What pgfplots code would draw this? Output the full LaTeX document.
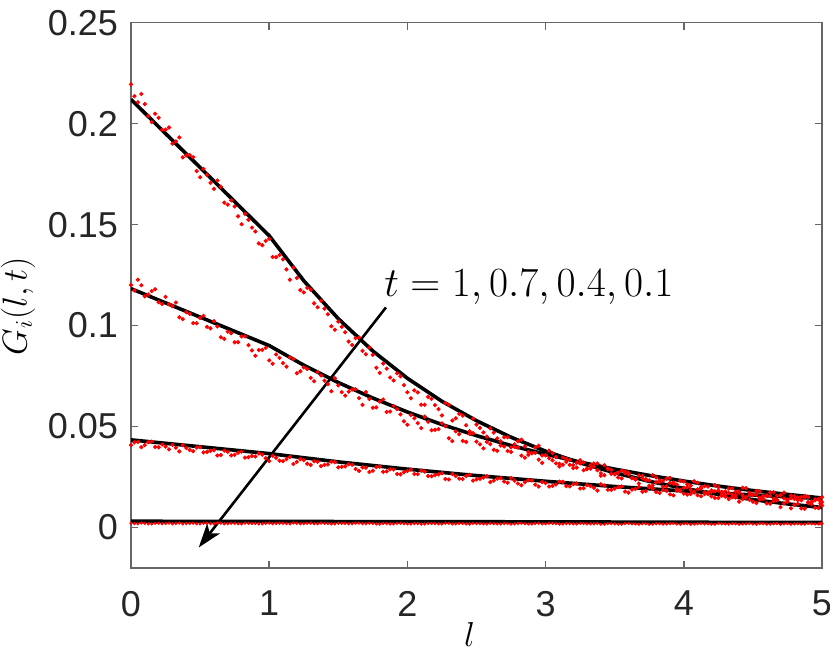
\documentclass[border=0pt]{standalone}
\usepackage{fontspec}
\setmainfont{Liberation Sans}
\usepackage{pgfplots}
\pgfplotsset{compat=1.18}
\usepackage{pgfplotstable}
\usetikzlibrary{arrows.meta}

\definecolor{axgray}{RGB}{38,38,38}

% simulated points (red), two interleaved samples per band
\pgfplotstableread{
l m a1 b1 a7 b7 a4 b4 a01 b01
0 0.025 0.2195 0.2136 0.1201 0.1174 0.0408 0.0422 0.00215 0.00195
0.05 0.075 0.2106 0.2147 0.1227 0.1200 0.0424 0.0398 0.0019 0.0022
0.1 0.125 0.2097 0.2038 0.1145 0.1154 0.0408 0.0423 0.00205 0.00185
0.15 0.175 0.2008 0.2049 0.1171 0.1180 0.0425 0.0399 0.0018 0.0021
0.2 0.225 0.2029 0.1970 0.1116 0.1107 0.0397 0.0411 0.0021 0.0019
0.25 0.275 0.1970 0.1981 0.1142 0.1106 0.0401 0.0387 0.0020 0.00215
0.3 0.325 0.1901 0.1912 0.1096 0.1114 0.0409 0.0395 0.00185 0.0020
0.35 0.375 0.1932 0.1833 0.1041 0.1032 0.0377 0.0408 0.0022 0.0018
0.4 0.425 0.1843 0.1844 0.1067 0.1058 0.0394 0.0384 0.00195 0.00205
0.45 0.475 0.1834 0.1765 0.1012 0.1012 0.0378 0.0396 0.0021 0.00185
0.5 0.525 0.1735 0.1776 0.1038 0.1048 0.0398 0.0372 0.0018 0.0021
0.55 0.575 0.1746 0.1707 0.0994 0.0986 0.0374 0.0380 0.00205 0.00195
0.6 0.625 0.1677 0.1718 0.1022 0.0996 0.0383 0.0357 0.0019 0.0022
0.65 0.675 0.1688 0.1609 0.0942 0.0934 0.0359 0.0381 0.00215 0.00185
0.7 0.725 0.1599 0.1620 0.0970 0.0962 0.0375 0.0357 0.0019 0.0021
0.75 0.775 0.1590 0.1541 0.0917 0.0918 0.0360 0.0370 0.00205 0.0019
0.8 0.825 0.1502 0.1553 0.0946 0.0947 0.0376 0.0346 0.0018 0.00215
0.85 0.875 0.1524 0.1485 0.0903 0.0877 0.0348 0.0354 0.0021 0.0020
0.9 0.925 0.1466 0.1407 0.0851 0.0879 0.0352 0.0367 0.0020 0.0018
0.95 0.975 0.1398 0.1419 0.0880 0.0890 0.0361 0.0343 0.00185 0.00205
1 1.025 0.1430 0.1340 0.0828 0.0811 0.0329 0.0355 0.0022 0.00185
1.05 1.075 0.1339 0.1349 0.0857 0.0840 0.0345 0.0331 0.00195 0.0021
1.1 1.125 0.1328 0.1278 0.0814 0.0797 0.0329 0.0339 0.0021 0.00195
1.15 1.175 0.1227 0.1287 0.0843 0.0835 0.0349 0.0315 0.0018 0.0022
1.2 1.225 0.1236 0.1176 0.0764 0.0774 0.0325 0.0339 0.00205 0.00185
1.25 1.275 0.1165 0.1187 0.0793 0.0785 0.0334 0.0316 0.0019 0.0021
1.3 1.325 0.1178 0.1110 0.0741 0.0724 0.0310 0.0328 0.00215 0.0019
1.35 1.375 0.1091 0.1123 0.0770 0.0753 0.0326 0.0304 0.0019 0.00215
1.4 1.425 0.1084 0.1056 0.0727 0.0710 0.0310 0.0312 0.00205 0.0020
1.45 1.475 0.0997 0.0979 0.0675 0.0739 0.0326 0.0324 0.0018 0.0018
1.5 1.525 0.1020 0.0994 0.0704 0.0670 0.0298 0.0300 0.0021 0.00205
1.55 1.575 0.0967 0.0921 0.0653 0.0673 0.0303 0.0313 0.0020 0.00185
1.6 1.625 0.0904 0.0938 0.0683 0.0685 0.0311 0.0290 0.00185 0.0021
1.65 1.675 0.0941 0.0875 0.0641 0.0607 0.0280 0.0298 0.0022 0.00195
1.7 1.725 0.0858 0.0892 0.0671 0.0637 0.0296 0.0275 0.00185 0.0021
1.75 1.775 0.0855 0.0791 0.0593 0.0595 0.0281 0.0299 0.0020 0.00175
1.8 1.825 0.0766 0.0812 0.0623 0.0634 0.0302 0.0276 0.0017 0.0020
1.85 1.875 0.0787 0.0743 0.0572 0.0574 0.0278 0.0289 0.00195 0.0018
1.9 1.925 0.0728 0.0764 0.0602 0.0586 0.0287 0.0265 0.0018 0.00205
1.95 1.975 0.0749 0.0705 0.0560 0.0526 0.0263 0.0274 0.00205 0.0019
2 2.025 0.0670 0.0640 0.0509 0.0557 0.0280 0.0287 0.0018 0.0017
2.05 2.075 0.0679 0.0669 0.0541 0.0517 0.0265 0.0264 0.00195 0.00195
2.1 2.125 0.0608 0.0608 0.0492 0.0549 0.0282 0.0277 0.0017 0.00175
2.15 2.175 0.0647 0.0637 0.0524 0.0482 0.0255 0.0254 0.0020 0.0020
2.2 2.225 0.0606 0.0586 0.0484 0.0487 0.0260 0.0263 0.0019 0.00185
2.25 2.275 0.0555 0.0617 0.0516 0.0502 0.0269 0.0240 0.00175 0.0021
2.3 2.325 0.0608 0.0530 0.0442 0.0428 0.0238 0.0265 0.0021 0.00175
2.35 2.375 0.0541 0.0563 0.0476 0.0462 0.0255 0.0242 0.00185 0.0020
2.4 2.425 0.0554 0.0506 0.0429 0.0424 0.0240 0.0255 0.0020 0.0018
2.45 2.475 0.0477 0.0539 0.0463 0.0467 0.0261 0.0232 0.0017 0.00205
2.5 2.525 0.0510 0.0493 0.0425 0.0412 0.0238 0.0241 0.00195 0.0019
2.55 2.575 0.0471 0.0450 0.0392 0.0424 0.0247 0.0254 0.0018 0.0017
2.6 2.625 0.0491 0.0470 0.0413 0.0385 0.0225 0.0232 0.00205 0.00195
2.65 2.675 0.0441 0.0427 0.0380 0.0406 0.0242 0.0245 0.0018 0.00175
2.7 2.725 0.0447 0.0447 0.0401 0.0379 0.0228 0.0222 0.00195 0.0020
2.75 2.775 0.0397 0.0412 0.0374 0.0400 0.0245 0.0232 0.0017 0.00185
2.8 2.825 0.0427 0.0435 0.0396 0.0356 0.0218 0.0209 0.0020 0.0021
2.85 2.875 0.0401 0.0374 0.0346 0.0360 0.0224 0.0235 0.0019 0.00175
2.9 2.925 0.0368 0.0397 0.0368 0.0370 0.0233 0.0212 0.00175 0.0020
2.95 2.975 0.0405 0.0357 0.0336 0.0320 0.0203 0.0225 0.0021 0.0018
3 3.025 0.0358 0.0381 0.0358 0.0343 0.0220 0.0203 0.00185 0.00205
3.05 3.075 0.0368 0.0349 0.0333 0.0318 0.0206 0.0213 0.0020 0.0019
3.1 3.125 0.0316 0.0311 0.0302 0.0347 0.0227 0.0226 0.0017 0.0017
3.15 3.175 0.0340 0.0335 0.0325 0.0310 0.0205 0.0204 0.00195 0.00195
3.2 3.225 0.0309 0.0297 0.0294 0.0321 0.0215 0.0218 0.0018 0.00175
3.25 3.275 0.0333 0.0322 0.0317 0.0284 0.0193 0.0195 0.00205 0.0020
3.3 3.325 0.0289 0.0292 0.0293 0.0308 0.0210 0.0205 0.0018 0.00185
3.35 3.375 0.0301 0.0317 0.0317 0.0284 0.0196 0.0183 0.00185 0.0020
3.4 3.425 0.0256 0.0259 0.0269 0.0308 0.0214 0.0208 0.0016 0.00165
3.45 3.475 0.0289 0.0285 0.0293 0.0266 0.0187 0.0186 0.0019 0.0019
3.5 3.525 0.0266 0.0248 0.0263 0.0272 0.0193 0.0200 0.0018 0.0017
3.55 3.575 0.0243 0.0269 0.0281 0.0278 0.0203 0.0178 0.00165 0.00195
3.6 3.625 0.0270 0.0246 0.0263 0.0244 0.0173 0.0188 0.0020 0.0018
3.65 3.675 0.0237 0.0218 0.0241 0.0258 0.0191 0.0202 0.00175 0.0016
3.7 3.725 0.0244 0.0235 0.0255 0.0240 0.0177 0.0180 0.0019 0.00185
3.75 3.775 0.0206 0.0208 0.0233 0.0259 0.0199 0.0193 0.0016 0.00165
3.8 3.825 0.0224 0.0226 0.0248 0.0234 0.0176 0.0171 0.00185 0.0019
3.85 3.875 0.0202 0.0204 0.0231 0.0241 0.0186 0.0181 0.0017 0.00175
3.9 3.925 0.0221 0.0223 0.0246 0.0216 0.0164 0.0159 0.00195 0.0020
3.95 3.975 0.0189 0.0181 0.0213 0.0231 0.0182 0.0185 0.0017 0.00165
4 4.025 0.0197 0.0199 0.0228 0.0214 0.0168 0.0163 0.00185 0.0019
4.05 4.075 0.0166 0.0173 0.0207 0.0229 0.0186 0.0177 0.0016 0.0017
4.1 4.125 0.0190 0.0193 0.0222 0.0200 0.0160 0.0155 0.0019 0.00195
4.15 4.175 0.0175 0.0172 0.0205 0.0203 0.0166 0.0165 0.0018 0.0018
4.2 4.225 0.0154 0.0146 0.0184 0.0210 0.0176 0.0179 0.00165 0.0016
4.25 4.275 0.0183 0.0166 0.0199 0.0177 0.0146 0.0157 0.0020 0.00185
4.3 4.325 0.0153 0.0141 0.0179 0.0193 0.0164 0.0171 0.00175 0.00165
4.35 4.375 0.0163 0.0161 0.0195 0.0177 0.0150 0.0149 0.0019 0.0019
4.4 4.425 0.0128 0.0141 0.0179 0.0197 0.0172 0.0159 0.0016 0.00175
4.45 4.475 0.0148 0.0161 0.0195 0.0173 0.0150 0.0137 0.00185 0.0020
4.5 4.525 0.0128 0.0121 0.0163 0.0181 0.0160 0.0163 0.0017 0.00165
4.55 4.575 0.0149 0.0142 0.0179 0.0157 0.0138 0.0141 0.00195 0.0019
4.6 4.625 0.0120 0.0118 0.0159 0.0173 0.0156 0.0156 0.0017 0.0017
4.65 4.675 0.0130 0.0138 0.0175 0.0157 0.0143 0.0134 0.00185 0.00195
4.7 4.725 0.0101 0.0119 0.0159 0.0173 0.0161 0.0144 0.0016 0.0018
4.75 4.775 0.0127 0.0095 0.0139 0.0145 0.0135 0.0158 0.0019 0.0016
4.8 4.825 0.0113 0.0117 0.0155 0.0149 0.0141 0.0136 0.0018 0.00185
4.85 4.875 0.0095 0.0093 0.0135 0.0157 0.0151 0.0151 0.00165 0.00165
4.9 4.925 0.0126 0.0115 0.0151 0.0125 0.0122 0.0129 0.0020 0.0019
4.95 4.975 0.0098 0.0096 0.0135 0.0141 0.0140 0.0139 0.00175 0.00175
5 4.99 0.0109 0.0118 0.0151 0.0127 0.0126 0.0118 0.0019 0.0020
}\reddots

\pgfplotsset{reddot/.style={red, only marks, mark=*, mark size=0.85pt, mark options={draw=none, fill=red}}}

\begin{document}
\begin{tikzpicture}
\begin{axis}[
  scale only axis,
  width=345.5pt, height=272.6pt,
  xmin=0, xmax=5, ymin=-0.02, ymax=0.25,
  xtick={0,1,2,3,4,5}, xticklabels={0,1,2,3,4,5},
  ytick={0,0.05,0.1,0.15,0.2,0.25},
  yticklabels={0,0.05,0.1,0.15,0.2,0.25},
  tick align=inside, major tick length=3.5pt,
  axis line style={black!60, line width=0.7pt},
  every tick/.style={black!60, line width=0.7pt},
  tick label style={font=\fontsize{18}{20}\selectfont, text=axgray},
  xticklabel style={yshift=-8pt},
  yticklabel style={xshift=-3pt},
  xlabel={$l$}, ylabel={$G_i(l,t)$},
  label style={font=\fontsize{17}{20}\selectfont},
  xlabel style={at={(axis description cs:0.49,-0.123)}, anchor=center},
  ylabel style={at={(axis description cs:-0.1635,0.48)}, anchor=center, rotate=0},
  clip=true,
]
% simulated data
\addplot[reddot] table[x=l, y=a1]{\reddots};
\addplot[reddot] table[x=m, y=b1]{\reddots};
\addplot[reddot] table[x=l, y=a7]{\reddots};
\addplot[reddot] table[x=m, y=b7]{\reddots};
\addplot[reddot] table[x=l, y=a4]{\reddots};
\addplot[reddot] table[x=m, y=b4]{\reddots};
\addplot[reddot, mark size=0.6pt] table[x=l, y=a01]{\reddots};
\addplot[reddot, mark size=0.6pt] table[x=m, y=b01]{\reddots};

% theory curves
\addplot[black, line width=1.8pt, line join=round] coordinates {
 (0,0.2120) (0.25,0.1951) (0.5,0.1783) (0.75,0.1614) (1,0.1445) (1.25,0.1222)
 (1.5,0.1034) (1.75,0.0874) (2,0.0739) (2.25,0.0625) (2.5,0.0529) (2.75,0.0447)
 (3,0.0378) (3.25,0.0320) (3.5,0.0271) (3.75,0.0229) (4,0.0194) (4.25,0.0164)
 (4.5,0.0138) (4.75,0.0117) (5,0.0099)};
\addplot[black, line width=1.8pt, line join=round] coordinates {
 (0,0.1183) (0.5,0.1042) (1,0.0901) (1.25,0.0804) (1.5,0.0718) (1.75,0.0641)
 (2,0.0572) (2.25,0.0510) (2.5,0.0455) (2.75,0.0406) (3,0.0363) (3.25,0.0324)
 (3.5,0.0289) (3.75,0.0258) (4,0.0230) (4.25,0.0205) (4.5,0.0183) (4.75,0.0164)
 (5,0.0146)};
\addplot[black, line width=1.8pt, line join=round] coordinates {
 (0,0.0434) (0.5,0.0400) (1,0.0366) (1.5,0.0325) (2,0.0289) (2.5,0.0257)
 (3,0.0229) (3.5,0.0203) (4,0.0181) (4.5,0.0161) (5,0.0143)};
\addplot[black, line width=1.8pt, line join=round] coordinates {
 (0,0.0031) (1,0.0030) (2,0.0029) (3,0.0028) (4,0.0026) (5,0.0025)};

\draw[line width=1.3pt, -{Stealth[length=12pt,width=8pt,inset=3pt]}]
  (axis cs:1.845,0.109) -- (axis cs:0.49,-0.0099);
\node[anchor=west, inner sep=0pt, font=\fontsize{22}{25}\selectfont]
  at (axis cs:1.83,0.119) {$t=1,0.7,0.4,0.1$};

\coordinate (sw) at (rel axis cs:0,0);
\coordinate (ne) at (rel axis cs:1,1);
\end{axis}
\pgfresetboundingbox
\path[use as bounding box] ([shift={(-65.5pt,-42.5pt)}]sw) rectangle ([shift={(4pt,11.35pt)}]ne);
\end{tikzpicture}
\end{document}
